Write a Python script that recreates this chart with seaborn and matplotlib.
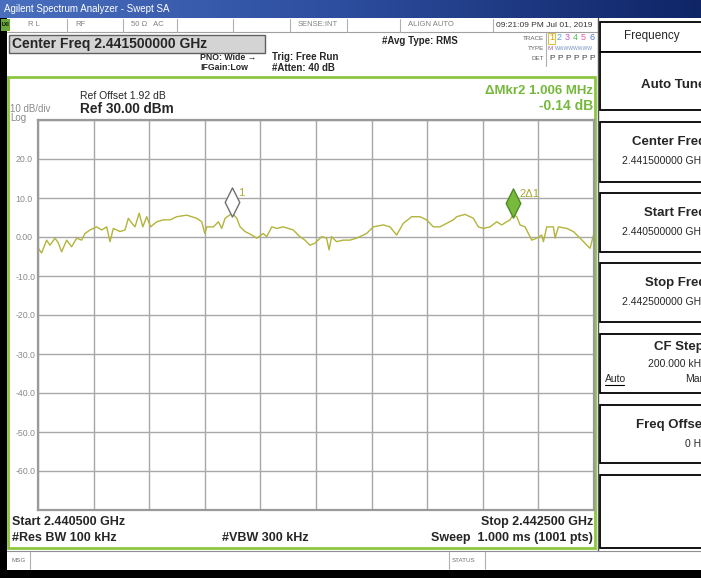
# spectrum analyzer screen: swept SA trace around 2.4415 GHz

import numpy as np
import matplotlib
matplotlib.use('Agg')
import matplotlib.pyplot as plt
import matplotlib.transforms as mtransforms
from matplotlib.patches import Rectangle
from matplotlib.path import Path
from matplotlib.colors import LinearSegmentedColormap
import seaborn as sns
import pandas as pd

# trace (MHz, dBm)
freq_mhz = [2440.501, 2440.513, 2440.531, 2440.543, 2440.561, 2440.573, 2440.585, 2440.603,
            2440.621, 2440.639, 2440.657, 2440.669, 2440.687, 2440.711, 2440.729, 2440.747,
            2440.759, 2440.771, 2440.795, 2440.813, 2440.825, 2440.837, 2440.849, 2440.864,
            2440.877, 2440.891, 2440.905, 2440.927, 2440.951, 2440.975, 2440.999, 2441.035,
            2441.071, 2441.089, 2441.100, 2441.107, 2441.131, 2441.149, 2441.161, 2441.173,
            2441.199, 2441.215, 2441.227, 2441.245, 2441.269, 2441.287, 2441.310, 2441.323,
            2441.341, 2441.359, 2441.382, 2441.418, 2441.442, 2441.460, 2441.478, 2441.496,
            2441.521, 2441.538, 2441.547, 2441.556, 2441.574, 2441.598, 2441.622, 2441.646,
            2441.682, 2441.706, 2441.742, 2441.766, 2441.790, 2441.814, 2441.844, 2441.874,
            2441.898, 2441.922, 2441.946, 2441.970, 2441.994, 2442.006, 2442.036, 2442.066,
            2442.084, 2442.102, 2442.126, 2442.150, 2442.168, 2442.186, 2442.198, 2442.210,
            2442.222, 2442.234, 2442.252, 2442.276, 2442.294, 2442.312, 2442.318, 2442.330,
            2442.354, 2442.360, 2442.372, 2442.402, 2442.426, 2442.450, 2442.474, 2442.486,
            2442.498]
level_dbm = [-2.9, -4.1, -0.8, -2.1, -0.3, -1.5, -3.8, -0.8,
             -2.5, -0.3, -0.8, 0.9, 1.8, 2.6, 1.8, 2.6,
             -1.2, 2.2, 1.4, 1.8, 4.8, 3.6, 2.6, 6.1,
             2.6, 5.2, 2.6, 3.9, 4.4, 4.4, 5.2, 5.6,
             4.8, 3.9, 0.9, 2.6, 2.6, 3.9, 2.2, 4.8,
             6.1, 4.8, 2.6, 1.4, 0.5, -0.3, 0.9, 0.1,
             2.6, 2.2, 2.6, 1.8, 0.1, -0.8, -2.1, -1.6,
             0.1, -0.3, -3.3, 0.1, -1.2, -0.8, -0.8, -0.3,
             0.9, 2.6, 3.1, 2.6, 0.5, 3.5, 5.2, 5.2,
             4.4, 2.6, 2.6, 3.5, 4.4, 5.2, 5.8, 4.8,
             2.6, 2.2, 2.6, 3.9, 3.1, 3.9, 4.4, 5.8,
             5.2, 3.1, 2.6, -0.8, -0.3, 0.5, -1.2, 2.6,
             2.6, -0.3, 2.6, 2.2, 1.4, -0.3, -2.1, -2.9,
             0.5]

start_mhz = 2440.5
stop_mhz = 2442.5
ref_level = 30.0
div_db = 10.0
ytick_labels = ['', '20.0', '10.0', '0.00', '-10.0', '-20.0', '-30.0', '-40.0', '-50.0', '-60.0', '']

mkr1_freq = 2441.199
mkr2_freq = 2442.210

status_cells = ['R L', 'RF', '50 \u03a9   AC', '', '', 'SENSE:INT', '', 'ALIGN AUTO']
softkey_titles = ['Auto Tune', 'Center Freq', 'Start Freq', 'Stop Freq', 'CF Step', 'Freq Offset', '']
softkey_values = ['', '2.441500000 GHz', '2.440500000 GHz', '2.442500000 GHz', '200.000 kHz', '0 Hz', '']
trace_colors = ['#d8a800', '#4da6d9', '#c455c4', '#5cb85c', '#e0609a', '#5577dd']

TRACE_COL = '#b3b43a'
GREEN = '#8cc63f'
GREEN_TXT = '#76b83c'
GRAY_TXT = '#8a8a8a'

sns.set_style('white')
plt.rcParams['font.family'] = ['Liberation Sans', 'DejaVu Sans']

W, H = 701, 578
fig = plt.figure(figsize=(W / 100, H / 100), dpi=100, facecolor='black')

# screen chrome drawn in pixel coordinates
bg = fig.add_axes([0, 0, 1, 1])
bg.set_xlim(0, W)
bg.set_ylim(H, 0)
bg.axis('off')

bg.add_patch(Rectangle((7, 18), W - 7, 552, fc='white', ec='none'))

# title bar
cmap = LinearSegmentedColormap.from_list('bar', ['#4a6fbf', '#2c4c9c', '#0f2566'])
bg.imshow(np.linspace(0, 1, 256).reshape(1, -1), extent=(0, W, 18, 0), cmap=cmap, aspect='auto')
bg.set_xlim(0, W)
bg.set_ylim(H, 0)
bg.text(4, 9, 'Agilent Spectrum Analyzer - Swept SA', color='white', fontsize=7, va='center')

# status row
bg.add_patch(Rectangle((1, 19), 9, 12, fc='#6aa83a', ec='none'))
bg.text(5.5, 25, 'LXI', fontsize=3.5, color='black', ha='center', va='center', weight='bold')
bg.plot([7, 598], [32, 32], color='#a0a0a0', lw=0.8)
cell_x = [10, 67, 123, 177, 233, 290, 347, 400]
for cx, lab in zip(cell_x, status_cells):
    bg.text(cx + 18 if lab == 'R L' else cx + 8, 25, lab, fontsize=5.5, color='#808080', va='center')
for vx in [67, 123, 177, 233, 290, 347, 400, 493]:
    bg.plot([vx, vx], [19, 32], color='#b0b0b0', lw=0.8)
bg.text(496, 25, '09:21:09 PM Jul 01, 2019', fontsize=6, color='#333333', va='center')

# center freq box and settings
bg.add_patch(Rectangle((9, 35), 256, 18, fc='#d4d4d4', ec='#606060', lw=1))
bg.text(12, 44, 'Center Freq 2.441500000 GHz', fontsize=10, weight='bold', va='center')
bg.text(200, 57, 'PNO: Wide \u2192', fontsize=6.3, weight='bold', va='center')
bg.text(200, 68, 'IFGain:Low', fontsize=6.3, weight='bold', va='center')
bg.text(272, 57, 'Trig: Free Run', fontsize=7, weight='bold', va='center')
bg.text(272, 68, '#Atten: 40 dB', fontsize=7, weight='bold', va='center')
bg.text(382, 41, '#Avg Type: RMS', fontsize=7, weight='bold', va='center')

# trace table
for yy, lab in zip([38, 48, 58], ['TRACE', 'TYPE', 'DET']):
    bg.text(544, yy, lab, fontsize=4.5, color='#606060', ha='right', va='center')
bg.plot([546, 546], [33, 66], color='#b0b0b0', lw=0.8)
for i, c in enumerate(trace_colors):
    bg.text(549 + 8 * i, 38, str(i + 1), fontsize=6.5, color=c, va='center')
    bg.text(549 + 8 * i, 58, 'P', fontsize=6, color='#404040', va='center')
bg.add_patch(Rectangle((547.5, 32.5), 7, 11, fc='none', ec='#e0c040', lw=0.8))
bg.text(548, 48, 'M', fontsize=4.5, color='#a060a0', va='center')
bg.text(555, 48, 'WWWWWWWW', fontsize=3.6, color='#7090c0', va='center')

# green frame of the measurement window
bg.add_patch(Rectangle((8, 77), 587, 471, fc='none', ec=GREEN, lw=2))
bg.plot([598, 598], [18, 551], color='#505050', lw=1)

bg.text(10, 109, '10 dB/div', fontsize=7, color=GRAY_TXT, va='center')
bg.text(10, 118, 'Log', fontsize=7, color=GRAY_TXT, va='center')
bg.text(80, 96, 'Ref Offset 1.92 dB', fontsize=7.5, va='center')
bg.text(80, 109, 'Ref 30.00 dBm', fontsize=9.8, weight='bold', va='center')
bg.text(593, 91, '\u0394Mkr2 1.006 MHz', fontsize=9.5, weight='bold', color=GREEN_TXT, ha='right', va='center')
bg.text(593, 106, '-0.14 dB', fontsize=10, weight='bold', color=GREEN_TXT, ha='right', va='center')

bg.text(12, 522, 'Start 2.440500 GHz', fontsize=9, weight='bold', va='center')
bg.text(593, 522, 'Stop 2.442500 GHz', fontsize=9, weight='bold', ha='right', va='center')
bg.text(12, 538, '#Res BW 100 kHz', fontsize=9, weight='bold', va='center')
bg.text(222, 538, '#VBW 300 kHz', fontsize=9, weight='bold', va='center')
bg.text(593, 538, 'Sweep  1.000 ms (1001 pts)', fontsize=9, weight='bold', ha='right', va='center')

# message bar
bg.plot([7, W], [551, 551], color='#909090', lw=0.8)
for vx in [30, 449, 485]:
    bg.plot([vx, vx], [552, 569], color='#b0b0b0', lw=0.8)
bg.text(11, 561, 'MSG', fontsize=4.5, color='#707070', va='center')
bg.text(452, 561, 'STATUS', fontsize=4.5, color='#707070', va='center')

# soft keys (the screenshot cuts them at the right edge)
bg.add_patch(Rectangle((600, 22), 130, 30, fc='white', ec='black', lw=1.3))
bg.text(652, 36, 'Frequency', fontsize=8.5, ha='center', va='center')
key_top = [52, 122, 193, 263, 334, 405, 475]
key_bot = [110, 182, 252, 322, 393, 463, 548]
for top, bot, title, val in zip(key_top, key_bot, softkey_titles, softkey_values):
    bg.add_patch(Rectangle((600, top), 130, bot - top, fc='white', ec='black', lw=1.3))
    if title == 'Auto Tune':
        bg.text(705, top + 33, title, fontsize=9.5, weight='bold', ha='right', va='center')
    elif title == 'CF Step':
        bg.text(704, top + 13, title, fontsize=9.5, weight='bold', ha='right', va='center')
        bg.text(706, top + 30, val, fontsize=7.5, ha='right', va='center')
        bg.text(605, top + 45, 'Auto', fontsize=7.5, va='center')
        bg.plot([605, 624], [top + 51, top + 51], color='black', lw=0.8)
        bg.text(705, top + 45, 'Man', fontsize=7.5, ha='right', va='center')
    elif title:
        bg.text(706, top + 20, title, fontsize=9.5, weight='bold', ha='right', va='center')
        bg.text(706, top + 39, val, fontsize=7.5, ha='right', va='center')

# measurement graticule and trace
ax = fig.add_axes([38 / W, 1 - 510 / H, 556 / W, 390 / H])
df = pd.DataFrame({'freq': freq_mhz, 'level': level_dbm})
sns.lineplot(data=df, x='freq', y='level', ax=ax, color=TRACE_COL, linewidth=1.0)
ax.set_facecolor('white')
ax.set_xlim(start_mhz, stop_mhz)
ax.set_ylim(ref_level - 10 * div_db, ref_level)
ax.set_xticks(np.linspace(start_mhz, stop_mhz, 11))
ax.set_xticklabels([])
yt = [ref_level - div_db * i for i in range(11)]
ax.set_yticks(yt)
ax.set_yticklabels(ytick_labels)
for lab in ax.get_yticklabels():
    lab.set_horizontalalignment('left')
ax.tick_params(length=0, labelsize=6.3, labelcolor=GRAY_TXT, pad=16)
ax.grid(True, color='#a8a8a8', lw=1)
for s in ax.spines.values():
    s.set_color('#9a9a9a')
    s.set_linewidth(1.6)
ax.set_xlabel('')
ax.set_ylabel('')

# markers sit just above the trace peak; tall narrow diamond
diamond = Path([(0, 1), (0.5, 0), (0, -1), (-0.5, 0), (0, 1)],
               [Path.MOVETO, Path.LINETO, Path.LINETO, Path.LINETO, Path.CLOSEPOLY])
lift = mtransforms.offset_copy(ax.transData, fig=fig, y=11, units='dots')
m1_lvl = np.interp(mkr1_freq, freq_mhz, level_dbm)
m2_lvl = np.interp(mkr2_freq, freq_mhz, level_dbm)
ax.plot([mkr1_freq], [m1_lvl], marker=diamond, ms=21, mfc='white', mec='#707070', mew=1, transform=lift, clip_on=False)
ax.plot([mkr2_freq], [m2_lvl], marker=diamond, ms=21, mfc='#79b93c', mec='#4d8a25', mew=1, transform=lift, clip_on=False)
ax.annotate('1', xy=(mkr1_freq, m1_lvl), xytext=(6, 20), textcoords='offset pixels',
            fontsize=8, color='#a9a932', va='center', ha='left')
ax.annotate('2\u03941', xy=(mkr2_freq, m2_lvl), xytext=(6, 20), textcoords='offset pixels',
            fontsize=8, color='#a9a932', va='center', ha='left')

fig.savefig('out.png', dpi=100, facecolor=fig.get_facecolor())
